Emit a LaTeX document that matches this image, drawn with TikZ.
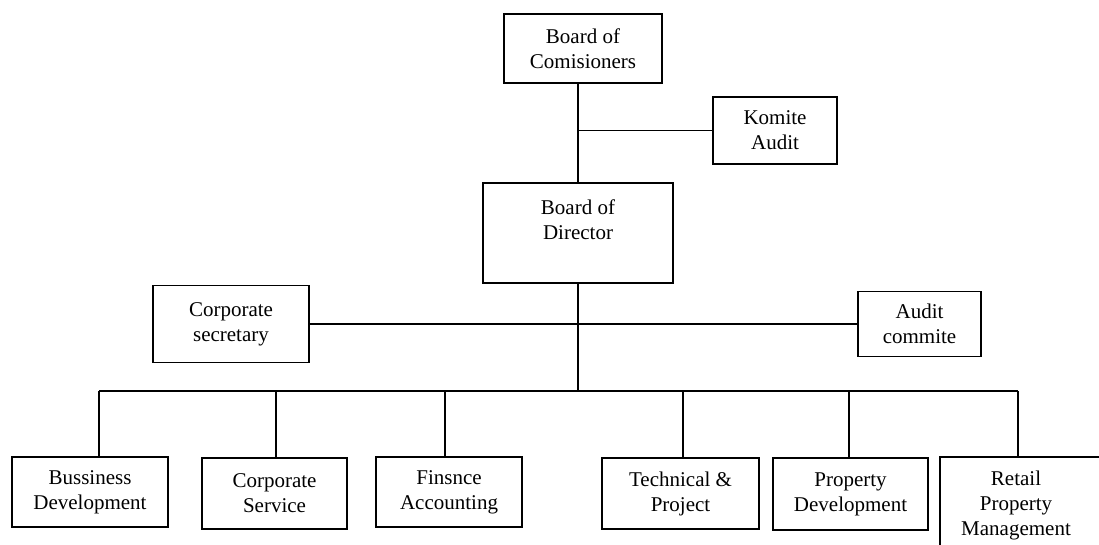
\documentclass[tikz,border=0pt]{standalone}
\usepackage{fontspec}
\setmainfont{Liberation Serif}
\begin{document}
\begin{tikzpicture}[x=1pt,y=-1pt,
  txt/.style={align=center, inner sep=0pt, font=\fontsize{21}{25}\selectfont},
  box/.style={txt, draw, line width=1.9pt, rectangle},
  link/.style={line width=1.9pt}]
\useasboundingbox (0,0) rectangle (1099,544);
\clip (0,0) rectangle (1099,544);

% top of the structure
\node[box, minimum width=158, minimum height=69] (boc) at (583,48.5) {Board of\\Comisioners};
\node[box, minimum width=124, minimum height=67] (komite) at (775,130.5) {Komite\\Audit};
\node[box, minimum width=190, minimum height=100] (bod) at (578,233) {};
\node[txt] (bodtxt) at (578,219.5) {Board of\\Director};

% staff units beside the directors
\node[box, minimum width=156, minimum height=77] (corpsec) at (231,324) {Corporate\\secretary};
\node[box, minimum width=123, minimum height=65] (audit) at (919.5,324) {Audit\\commite};

% divisions
\node[box, minimum width=156, minimum height=70] (bd) at (90,492) {Bussiness\\Development};
\node[box, minimum width=145, minimum height=71] (cs) at (274.5,493.5) {Corporate\\Service};
\node[box, minimum width=146, minimum height=70] (fa) at (449,492) {Finsnce\\Accounting};
\node[box, minimum width=157, minimum height=71] (tp) at (680.5,493.5) {Technical \&\\Project};
\node[box, minimum width=155, minimum height=72] (pd) at (850.5,494) {Property\\Development};
\node[box, anchor=north west, minimum width=162, minimum height=114] (rpm) at (939,456) {};
\node[txt] (rpmtxt) at (1016,505) {Retail\\Property\\Management};

% connectors
\draw[link] (boc.south -| bod.north) -- (bod.north);
\draw[link] (bod.north |- komite.west) -- (komite.west);
\draw[link] (corpsec.east) -- (audit.west);
\coordinate (bus) at (578,391);
\draw[link] (bod.south) -- (bus);
\coordinate (d1) at (99,391);
\coordinate (d2) at (276,391);
\coordinate (d3) at (445,391);
\coordinate (d4) at (683,391);
\coordinate (d5) at (849,391);
\coordinate (d6) at (1018,391);
\draw[link] (d1) -- (d6);
\draw[link] (d1) -- (d1 |- bd.north);
\draw[link] (d2) -- (d2 |- cs.north);
\draw[link] (d3) -- (d3 |- fa.north);
\draw[link] (d4) -- (d4 |- tp.north);
\draw[link] (d5) -- (d5 |- pd.north);
\draw[link] (d6) -- (d6 |- rpm.north);
\end{tikzpicture}
\end{document}
